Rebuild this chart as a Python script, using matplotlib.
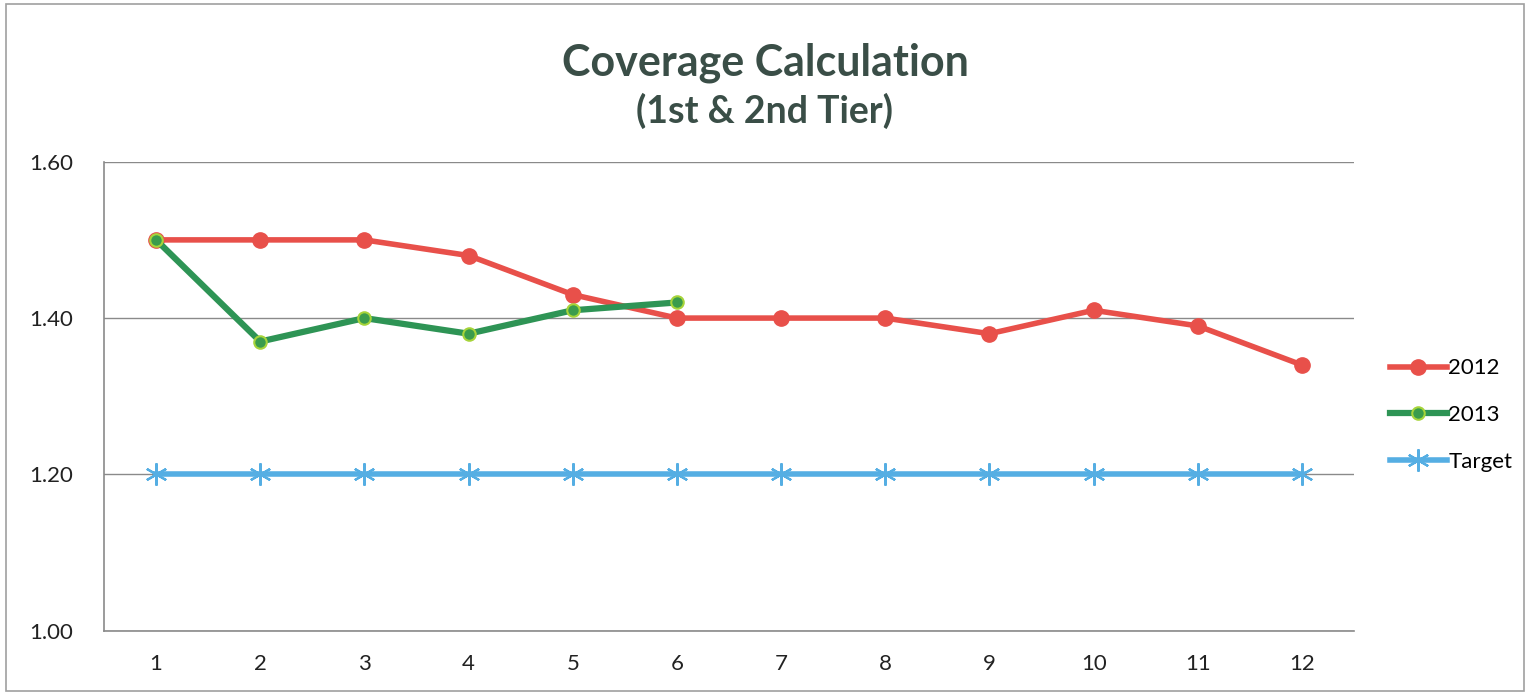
import matplotlib.pyplot as plt
from matplotlib.patches import Rectangle

months = list(range(1, 13))
cov_2012 = [1.50, 1.50, 1.50, 1.48, 1.43, 1.40, 1.40, 1.40, 1.38, 1.41, 1.39, 1.34]
cov_2013 = [1.50, 1.37, 1.40, 1.38, 1.41, 1.42]
target = [1.20] * 12

plt.rcParams['font.family'] = ['Lato', 'DejaVu Sans']

fig = plt.figure(figsize=(15.3, 6.94), dpi=100)
ax = fig.add_axes([0.068, 0.091, 0.817, 0.676])

# 外框
fig.patches.append(Rectangle((0.004, 0.004), 0.992, 0.99, transform=fig.transFigure,
                             fill=False, edgecolor='#a0a0a0', linewidth=1.2))

ax.plot(months, target, color='#55aee3', linewidth=4, marker=(6, 2, 0), markersize=16,
        markeredgewidth=1.6, markeredgecolor='#55aee3', label='Target', zorder=2)
ax.plot(months, cov_2012, color='#e8504a', linewidth=4, marker='o', markersize=11,
        markeredgecolor='#e8504a', label='2012', zorder=3)
ax.plot(months[:len(cov_2013)], cov_2013, color='#2e9455', linewidth=4.5, marker='o', markersize=9,
        markerfacecolor='#3a9c4c', markeredgecolor='#a6d43a', markeredgewidth=1.5,
        label='2013', zorder=4)

ax.set_xlim(0.5, 12.5)
ax.set_ylim(1.0, 1.6)
ax.set_xticks(months)
ax.set_yticks([1.0, 1.2, 1.4, 1.6])
ax.set_yticklabels(['1.00', '1.20', '1.40', '1.60'])
ax.tick_params(length=0, labelsize=16, colors='#222222')
ax.tick_params(axis='x', pad=17)
ax.tick_params(axis='y', pad=22)
ax.grid(axis='y', color='#8a8a8a', linewidth=1)
ax.set_axisbelow(True)
for s in ['top', 'right']:
    ax.spines[s].set_visible(False)
for s in ['left', 'bottom']:
    ax.spines[s].set_color('#8a8a8a')
    ax.spines[s].set_linewidth(1.2)

handles, labels = ax.get_legend_handles_labels()
order = [1, 2, 0]
ax.legend([handles[i] for i in order], [labels[i] for i in order], loc='center left',
          bbox_to_anchor=(1.0, 0.46), frameon=False, fontsize=16, handlelength=2.6,
          handletextpad=0.05, labelspacing=1.2, borderaxespad=1.2)

fig.text(0.5, 0.91, 'Coverage Calculation', ha='center', va='center', fontsize=31,
         fontweight='bold', color='#3a4e47')
fig.text(0.5, 0.84, '(1st & 2nd Tier)', ha='center', va='center', fontsize=27,
         fontweight='bold', color='#3a4e47')

fig.savefig('out.png', dpi=100)
